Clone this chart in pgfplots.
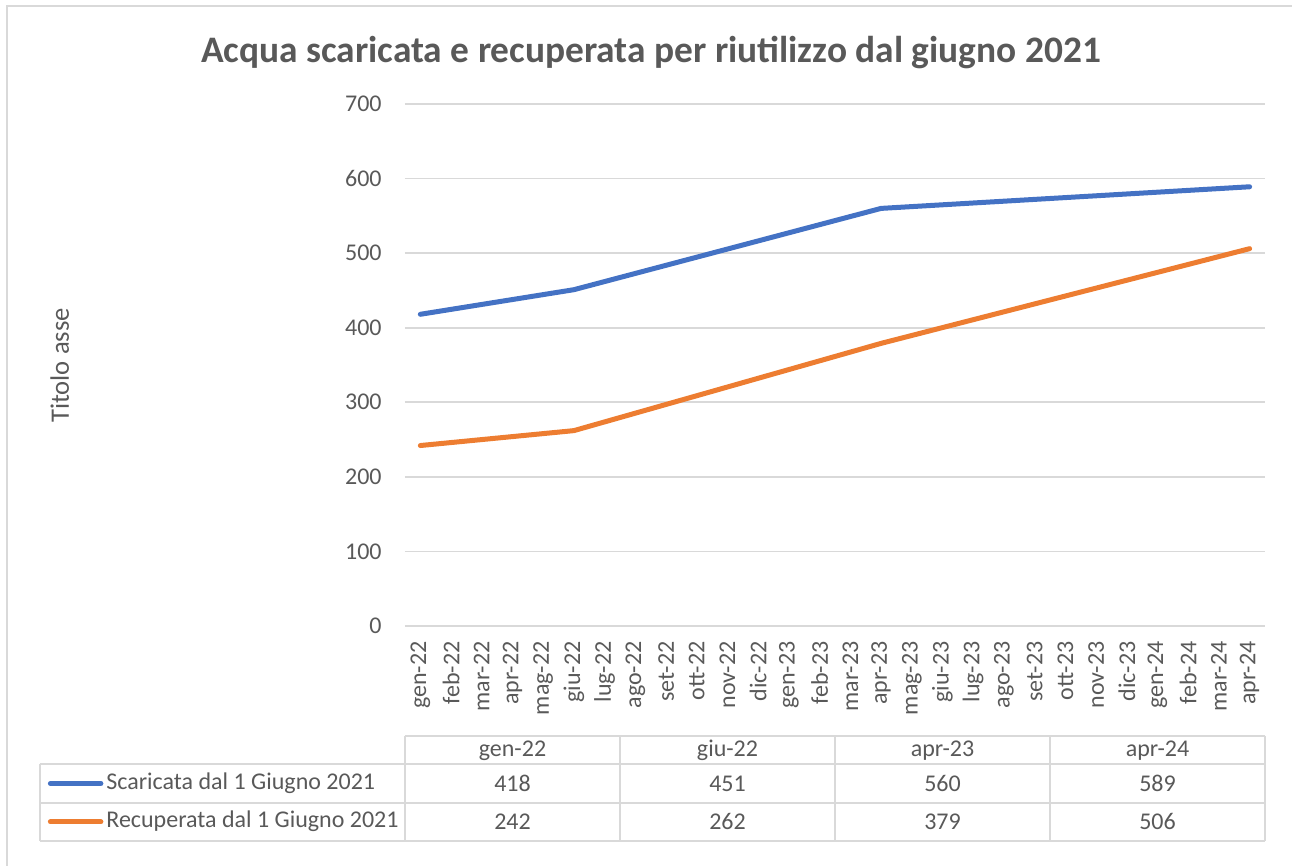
\documentclass[border=0pt]{standalone}
\usepackage{pgfplots}
\pgfplotsset{compat=1.18}
\usepackage{fontspec}
\setmainfont{Carlito}
\definecolor{txtgray}{HTML}{595959}
\definecolor{lngray}{HTML}{D9D9D9}
\definecolor{serBlue}{HTML}{4472C4}
\definecolor{serOrange}{HTML}{ED7D31}

\begin{document}
\begin{tikzpicture}
  \begin{axis}[
      scale only axis,
      width=430pt, height=261pt,
      xmin=-0.5, xmax=27.5,
      ymin=0, ymax=700,
      ytick={0,100,...,700},
      xtick={0,1,...,27},
      xticklabels={gen-22,feb-22,mar-22,apr-22,mag-22,giu-22,lug-22,ago-22,set-22,ott-22,nov-22,dic-22,
                   gen-23,feb-23,mar-23,apr-23,mag-23,giu-23,lug-23,ago-23,set-23,ott-23,nov-23,dic-23,
                   gen-24,feb-24,mar-24,apr-24},
      axis line style={draw=none},
      major tick length=0pt,
      ymajorgrids,
      grid style={draw=lngray, line width=0.8pt},
      /pgf/number format/assume math mode=true,
      tick label style={font=\fontsize{12}{14}\selectfont, text=txtgray},
      yticklabel style={anchor=east, inner xsep=11.5pt, inner ysep=0pt},
      xticklabel style={rotate=90, anchor=east, inner xsep=7.5pt, inner ysep=0pt},
      legend style={
        at={(axis description cs:-0.4157,-0.3386)}, anchor=west,
        draw=none, fill=none, inner sep=0pt,
        font=\fontsize{12}{14}\selectfont, text=txtgray,
        nodes={inner sep=0pt, text height=8.5pt, text depth=2.5pt},
        row sep=8.25pt, column sep=1.5pt
      },
      legend cell align=left,
      legend image code/.code={\draw[#1, line cap=round] (0pt,0pt) -- (25.25pt,0pt);},
    ]
    \addplot[serBlue, line width=2.5pt, line cap=round, line join=round]
      coordinates {(0,418) (5,451) (15,560) (27,589)};
    \addplot[serOrange, line width=2.5pt, line cap=round, line join=round]
      coordinates {(0,242) (5,262) (15,379) (27,506)};
    \legend{Scaricata dal 1 Giugno 2021, Recuperata dal 1 Giugno 2021}
  \end{axis}

  % reference pixel frame: (0,0) top left, 1 px = 0.5 pt
  \begin{scope}[x=0.5pt, y=-0.5pt, shift={(-202.5pt,313pt)}]
    \useasboundingbox (0,0) rectangle (1292,866);
    \draw[lngray, line width=1pt] (7,866) -- (7,6) -- (1292,6);

    \node[anchor=base, text=txtgray, font=\fontsize{18.7}{22}\selectfont\bfseries]
      at (651,63) {Acqua scaricata e recuperata per riutilizzo dal giugno 2021};
    \node[anchor=base, rotate=90, text=txtgray, font=\fontsize{13.3}{16}\selectfont]
      at (69,365.5) {Titolo asse};

    % data table
    \begin{scope}[lngray, line width=0.9pt]
      \draw (405,736) -- (1265,736);
      \draw (40,764) -- (1265,764);
      \draw (40,803) -- (1265,803);
      \draw (40,841) -- (1265,841);
      \draw (40,764) -- (40,841);
      \foreach \xx in {405,620,835,1050,1265} \draw (\xx,736) -- (\xx,841);
    \end{scope}
    \begin{scope}[every node/.style={anchor=base, text=txtgray, font=\fontsize{12}{14}\selectfont}]
      \node at (512.5,757) {gen-22};
      \node at (727.5,757) {giu-22};
      \node at (942.5,757) {apr-23};
      \node at (1157.5,757) {apr-24};
      \node at (512.5,791.5) {418};
      \node at (727.5,791.5) {451};
      \node at (942.5,791.5) {560};
      \node at (1157.5,791.5) {589};
      \node at (512.5,829.5) {242};
      \node at (727.5,829.5) {262};
      \node at (942.5,829.5) {379};
      \node at (1157.5,829.5) {506};
    \end{scope}
  \end{scope}
\end{tikzpicture}
\end{document}
